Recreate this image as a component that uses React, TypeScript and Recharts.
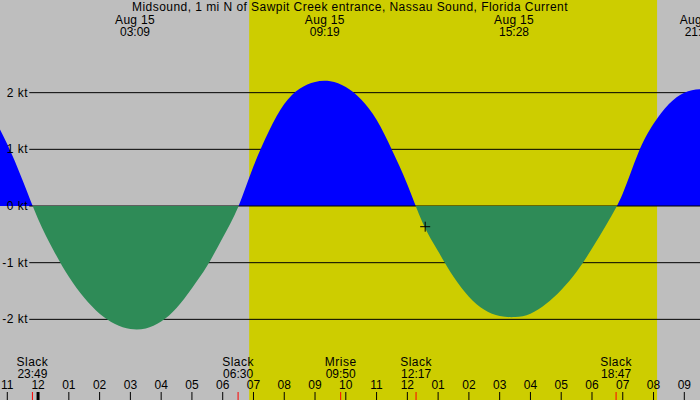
import React from 'react';
import {
  ComposedChart,
  Area,
  XAxis,
  YAxis,
  ReferenceArea,
  ReferenceLine,
  ReferenceDot,
} from 'recharts';

// hours relative to midnight Aug 15, current speed in knots (flood +, ebb -)
const HOURS = [
  -1.5, -1, -0.5, 0, 0.5, 1, 1.5, 2, 2.5, 3, 3.5, 4, 4.5, 5, 5.5, 6, 6.5, 7, 7.5, 8, 8.5, 9, 9.5, 10,
  10.5, 11, 11.5, 12, 12.5, 13, 13.5, 14, 14.5, 15, 15.5, 16, 16.5, 17, 17.5, 18, 18.5, 19, 19.5, 20,
  20.5, 21, 21.5, 22,
];
const KNOTS = [
  1.62, 1.09, 0.45, -0.23, -0.78, -1.25, -1.62, -1.9, -2.08, -2.17, -2.16, -2.04, -1.8, -1.45, -1.05,
  -0.56, -0.02, 0.7, 1.32, 1.8, 2.07, 2.19, 2.2, 2.1, 1.88, 1.52, 0.99, 0.38, -0.3, -0.8, -1.25, -1.6,
  -1.83, -1.94, -1.96, -1.9, -1.73, -1.48, -1.16, -0.75, -0.3, 0.22, 0.93, 1.45, 1.8, 2.0, 2.06, 2.04,
];

const HOUR_TICKS = [-1, 0, 1, 2, 3, 4, 5, 6, 7, 8, 9, 10, 11, 12, 13, 14, 15, 16, 17, 18, 19, 20, 21];
const HOUR_LABELS = [
  '11', '12', '01', '02', '03', '04', '05', '06', '07', '08', '09', '10',
  '11', '12', '01', '02', '03', '04', '05', '06', '07', '08', '09',
];

const KT_TICKS = [-2, -1, 0, 1, 2];
const KT_LABELS = ['-2 kt', '-1 kt', '0 kt', '1 kt', '2 kt'];
const GRID_LEVELS = [2, 1, -1, -2];

const EVENT_TIMES = [-0.183, 6.5, 9.833, 12.283, 18.783];
const EVENT_NAMES = ['Slack', 'Slack', 'Mrise', 'Slack', 'Slack'];
const EVENT_CLOCK = ['23:49', '06:30', '09:50', '12:17', '18:47'];

const PEAK_TIMES = [3.15, 9.317, 15.467, 21.5];
const PEAK_CLOCK = ['03:09', '09:19', '15:28', '21:30'];
const PEAK_DATE = 'Aug 15';

const SUNRISE = 6.86;
const SUNSET = 20.115;
const NOW = { h: 12.58, v: -0.365 };

const TITLE = 'Midsound, 1 mi N of Sawpit Creek entrance, Nassau Sound, Florida Current';

const W = 700;
const H = 400;
const X_MIN = -1.237;
const X_MAX = 21.51;
const Y_MIN = -3.423;
const Y_MAX = 3.635;
const GRID_START = -0.285;

const BG = '#bebebe';
const DAY = '#cdcd00';
const FLOOD = '#0000ff';
const EBB = '#2e8b57';
const FONT = '"Liberation Sans", Arial, sans-serif';
const WORD_SPACING = 0.5;

const data = HOURS.map((h, i) => ({ h, v: KNOTS[i] }));
const zeroOffset = Y_MAX / (Y_MAX - Y_MIN);

const HourTick = ({ x, payload }: any) => {
  const i = HOUR_TICKS.indexOf(payload.value);
  return (
    <g>
      <line x1={x} x2={x} y1={392} y2={H} stroke="#000" strokeWidth={payload.value === 0 ? 3 : 1} />
      <text x={x} y={389} textAnchor="middle" fontSize={12} fontFamily={FONT} fill="#000">
        {HOUR_LABELS[i]}
      </text>
    </g>
  );
};

const EventTick = ({ x, payload }: any) => {
  const i = EVENT_TIMES.indexOf(payload.value);
  return (
    <g>
      <line x1={x} x2={x} y1={392} y2={H} stroke="#ff0000" strokeWidth={1} />
      <text x={x} textAnchor="middle" fontSize={12} fontFamily={FONT} fill="#000">
        <tspan x={x} y={366} letterSpacing={WORD_SPACING}>{EVENT_NAMES[i]}</tspan>
        <tspan x={x} y={378}>{EVENT_CLOCK[i]}</tspan>
      </text>
    </g>
  );
};

const PeakTick = ({ x, payload }: any) => {
  const i = PEAK_TIMES.indexOf(payload.value);
  return (
    <text x={x} textAnchor="middle" fontSize={12} fontFamily={FONT} fill="#000">
      <tspan x={x} y={24} letterSpacing={0.3}>{PEAK_DATE}</tspan>
      <tspan x={x} y={36}>{PEAK_CLOCK[i]}</tspan>
    </text>
  );
};

const KtTick = ({ y, payload }: any) => {
  const i = KT_TICKS.indexOf(payload.value);
  return (
    <text x={28} y={y} dy={4} textAnchor="end" fontSize={12} fontFamily={FONT} fill="#000" letterSpacing={WORD_SPACING}>
      {KT_LABELS[i]}
    </text>
  );
};

const Cross = ({ cx, cy }: any) => (
  <path d={`M${cx - 5},${cy}H${cx + 5}M${cx},${cy - 5}V${cy + 5}`} stroke="#000" strokeWidth={1} fill="none" />
);

export default function App() {
  return (
    <div style={{ position: 'absolute', left: 0, top: 0, width: W, height: H, background: BG }}>
      <ComposedChart width={W} height={H} data={data} margin={{ top: 0, right: 0, bottom: 0, left: 0 }}>
        <defs>
          <linearGradient id="floodFill" gradientUnits="userSpaceOnUse" x1={0} y1={0} x2={0} y2={H}>
            <stop offset={zeroOffset} stopColor={FLOOD} stopOpacity={1} />
            <stop offset={zeroOffset} stopColor={FLOOD} stopOpacity={0} />
          </linearGradient>
          <linearGradient id="ebbFill" gradientUnits="userSpaceOnUse" x1={0} y1={0} x2={0} y2={H}>
            <stop offset={zeroOffset - 0.001} stopColor={EBB} stopOpacity={0} />
            <stop offset={zeroOffset - 0.001} stopColor={EBB} stopOpacity={1} />
          </linearGradient>
        </defs>
        <XAxis
          dataKey="h"
          type="number"
          domain={[X_MIN, X_MAX]}
          allowDataOverflow
          ticks={HOUR_TICKS}
          interval={0}
          mirror
          axisLine={false}
          tickLine={false}
          tick={<HourTick />}
        />
        <XAxis
          xAxisId="ev"
          dataKey="h"
          type="number"
          domain={[X_MIN, X_MAX]}
          allowDataOverflow
          ticks={EVENT_TIMES}
          interval={0}
          mirror
          axisLine={false}
          tickLine={false}
          tick={<EventTick />}
        />
        <XAxis
          xAxisId="peak"
          orientation="top"
          dataKey="h"
          type="number"
          domain={[X_MIN, X_MAX]}
          allowDataOverflow
          ticks={PEAK_TIMES}
          interval={0}
          mirror
          axisLine={false}
          tickLine={false}
          tick={<PeakTick />}
        />
        <YAxis
          type="number"
          domain={[Y_MIN, Y_MAX]}
          allowDataOverflow
          ticks={KT_TICKS}
          interval={0}
          mirror
          axisLine={false}
          tickLine={false}
          tick={<KtTick />}
        />
        <ReferenceArea x1={SUNRISE} x2={SUNSET} fill={DAY} fillOpacity={1} stroke="none" zIndex={-200} />
        {GRID_LEVELS.map((lv) => (
          <ReferenceLine
            key={lv}
            segment={[{ x: GRID_START, y: lv }, { x: X_MAX, y: lv }]}
            stroke="#000"
            strokeWidth={1}
            zIndex={-150}
          />
        ))}
        <Area
          dataKey="v"
          type="natural"
          baseValue={0}
          stroke="none"
          fill="url(#floodFill)"
          fillOpacity={1}
          dot={false}
          activeDot={false}
          isAnimationActive={false}
          zIndex={100}
        />
        <ReferenceLine
          segment={[{ x: GRID_START, y: 0 }, { x: X_MAX, y: 0 }]}
          stroke="#000"
          strokeWidth={1}
          zIndex={150}
        />
        <Area
          dataKey="v"
          type="natural"
          baseValue={0}
          stroke="none"
          fill="url(#ebbFill)"
          fillOpacity={1}
          dot={false}
          activeDot={false}
          isAnimationActive={false}
          zIndex={200}
        />
        <ReferenceDot x={NOW.h} y={NOW.v} r={5} shape={<Cross />} zIndex={300} />
      </ComposedChart>
      <div
        style={{
          position: 'absolute',
          left: 0,
          top: 0,
          width: W,
          textAlign: 'center',
          fontFamily: FONT,
          fontSize: 12,
          lineHeight: '15px',
          letterSpacing: 0.45,
          color: '#000',
          whiteSpace: 'nowrap',
          pointerEvents: 'none',
        }}
      >
        {TITLE}
      </div>
    </div>
  );
}
